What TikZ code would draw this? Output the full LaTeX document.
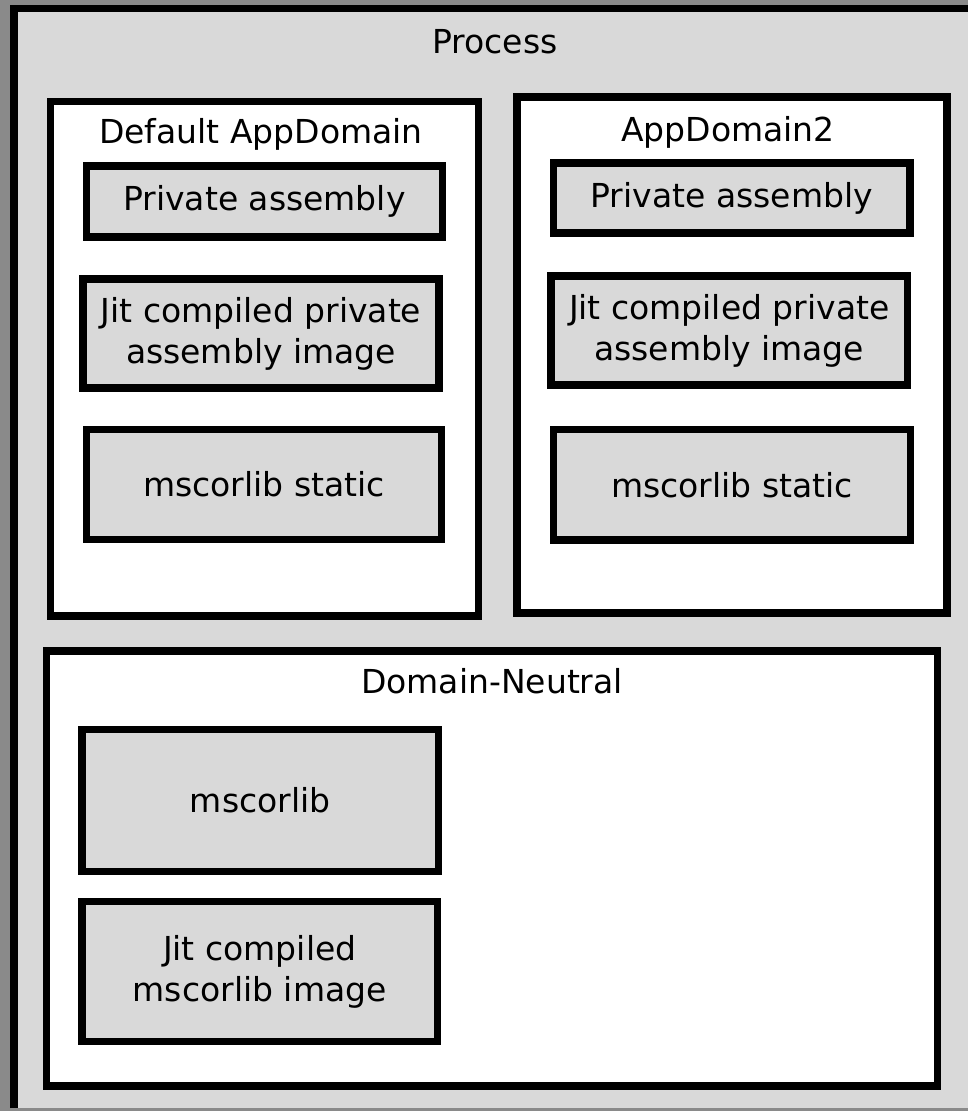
\documentclass[tikz,border=0pt]{standalone}
\usepackage{fontspec}
\setmainfont{DejaVu Sans}
\definecolor{panel}{HTML}{D9D9D9}
\definecolor{frame}{HTML}{8A8A8A}
\begin{document}
\begin{tikzpicture}[x=1pt,y=-1pt,
  font=\fontsize{33}{41}\selectfont,
  domainbox/.style={draw=black, line width=7.5pt, fill=white, inner sep=0pt,
    minimum width=#1},
  itembox/.style={draw=black, line width=7.5pt, fill=panel, inner sep=0pt,
    align=center},
  heading/.style={anchor=base, inner sep=0pt}]
  \useasboundingbox (0,0) rectangle (968,1111);
  % window frame and process area
  \fill[frame] (0,0) rectangle (968,1111);
  \fill[panel] (10,5) rectangle (968,1108);
  \draw[line width=7.5pt] (14,1108) -- (14,8.5) -- (968,8.5);
  \node[heading] (process) at (495,53) {Process};

  % Default AppDomain
  \node[domainbox=428pt, minimum height=514.5pt] (dad) at (264.5,358.75) {};
  \node[heading] (dadt) at (261,143) {Default AppDomain};
  \node[itembox, minimum width=356pt, minimum height=71pt] (pa1) at (264.5,201.5) {Private assembly};
  \node[itembox, minimum width=356pt, minimum height=109pt] (jit1) at (261,333.5) {Jit compiled private\\assembly image};
  \node[itembox, minimum width=355pt, minimum height=110pt] (ms1) at (264,484.5) {mscorlib static};

  % AppDomain2
  \node[domainbox=430pt, minimum height=516pt] (ad2) at (732,355) {};
  \node[heading] (ad2t) at (728,141) {AppDomain2};
  \node[itembox, minimum width=356.5pt, minimum height=70pt] (pa2) at (731.75,198) {Private assembly};
  \node[itembox, minimum width=356.5pt, minimum height=109pt] (jit2) at (729.25,330.5) {Jit compiled private\\assembly image};
  \node[itembox, minimum width=357pt, minimum height=110.5pt] (ms2) at (732,484.75) {mscorlib static};

  % Domain-Neutral
  \node[domainbox=891pt, minimum height=435pt] (dn) at (492,868.5) {};
  \node[heading] (dnt) at (492,693) {Domain-Neutral};
  \node[itembox, minimum width=356.5pt, minimum height=142pt] (msc) at (260.25,800.5) {mscorlib};
  \node[itembox, minimum width=355.5pt, minimum height=140pt] (jitms) at (259.75,971.5) {Jit compiled\\mscorlib image};
\end{tikzpicture}
\end{document}
